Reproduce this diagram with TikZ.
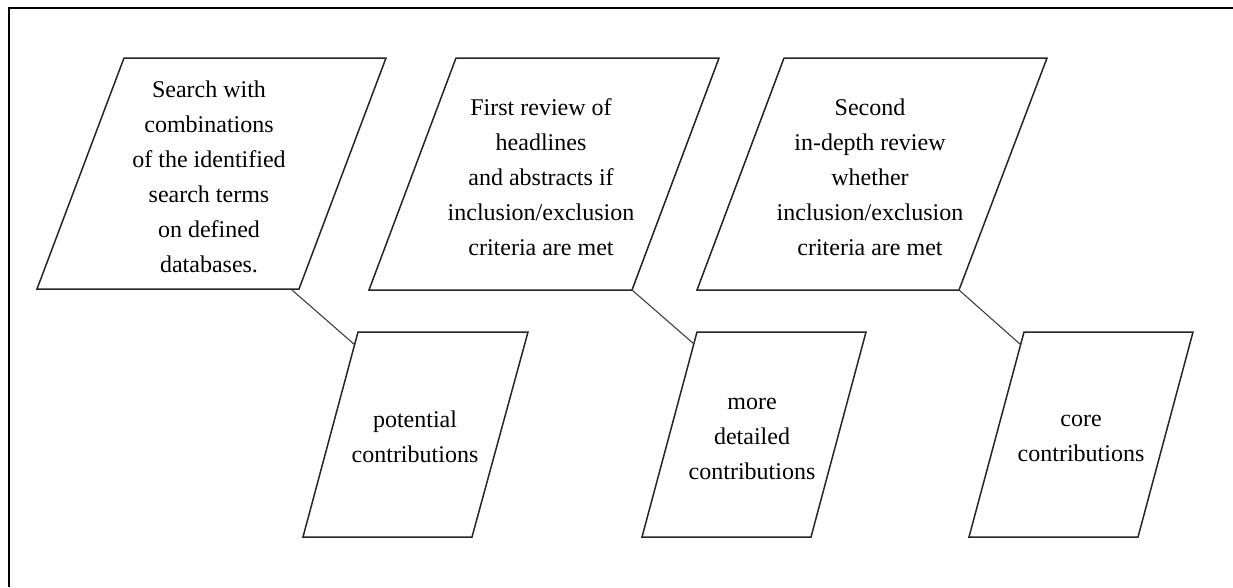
\documentclass[tikz,border=0pt]{standalone}
\usepackage{fontspec}
\setmainfont{Liberation Serif}
\begin{document}
\begin{tikzpicture}[x=1pt,y=-1pt,
  frameline/.style={line width=2pt,black},
  parabox/.style={line width=1.5pt,black!85,line join=miter},
  link/.style={line width=1.1pt,black!75},
  label/.style={align=center,inner sep=0pt,font=\fontsize{24}{35}\selectfont}]
\useasboundingbox (0,0) rectangle (1233,587);
\fill[white] (0,0) rectangle (1233,587);

% outer frame (only the left and top edges fall inside the page)
\draw[frameline] (9,587) -- (9,8) -- (1233,8);

% upper row: the three process steps
\draw[parabox] (124,58) coordinate (s1tl) -- (386,58) -- (299,289) coordinate (s1br) -- (37,289) -- cycle;
\draw[parabox] (456,58) coordinate (s2tl) -- (719,58) -- (632,290) coordinate (s2br) -- (369,290) -- cycle;
\draw[parabox] (784,58) coordinate (s3tl) -- (1047,58) -- (959,290) coordinate (s3br) -- (697,290) -- cycle;

% lower row: the resulting sets of contributions
\draw[parabox] (358,332) -- (528,332) -- (472,537) -- (303,537) -- cycle;
\draw[parabox] (697,332) -- (866,332) -- (811,537) -- (642,537) -- cycle;
\draw[parabox] (1024,332) -- (1193,332) -- (1138,537) -- (969,537) -- cycle;

% attachment points on the left edges of the lower boxes
\coordinate (r1in) at (355,345);
\coordinate (r2in) at (694,344);
\coordinate (r3in) at (1021,345);
\coordinate (s1out) at (292,290);

\node[label] (step1) at (209,177) {Search with\\combinations\\of the identified\\search terms\\on defined\\databases.};
\node[label] (step2) at (541,177) {First review of\\headlines\\and abstracts if\\inclusion/exclusion\\criteria are met};
\node[label] (step3) at (870,177) {Second\\in-depth review\\whether\\inclusion/exclusion\\criteria are met};

\node[label] (res1) at (415,437) {potential\\contributions};
\node[label] (res2) at (752,439) {more\\detailed\\contributions};
\node[label] (res3) at (1081,438) {core\\contributions};

% connectors from each step to its result
\draw[link] (s1out) -- (r1in);
\draw[link] (s2br) -- (r2in);
\draw[link] (s3br) -- (r3in);
\end{tikzpicture}
\end{document}
